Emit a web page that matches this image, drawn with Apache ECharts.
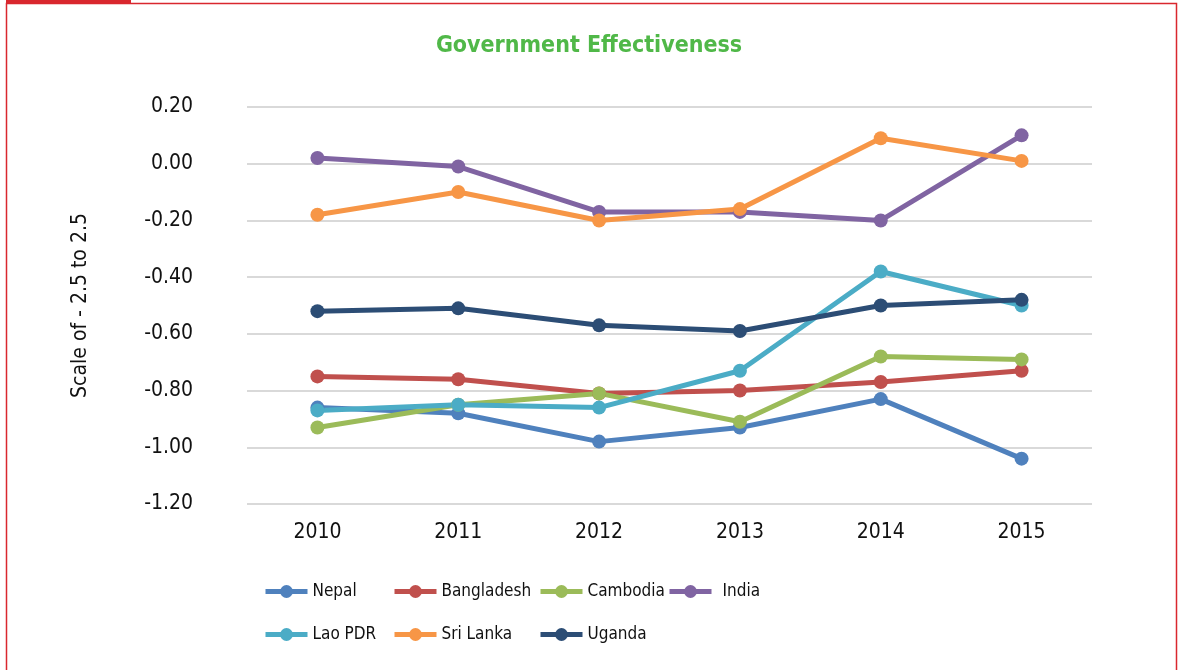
<!DOCTYPE html>
<html>
<head>
<meta charset="utf-8">
<title>Government Effectiveness</title>
<script src="https://cdn.jsdelivr.net/npm/echarts@6/dist/echarts.min.js"></script>
<style>
  html, body { margin: 0; padding: 0; background: #ffffff; }
  #chart { width: 1178px; height: 670px; }
</style>
</head>
<body>
<div id="chart"></div>
<script>
// Government Effectiveness estimates (scale of -2.5 to 2.5), 2010-2015
const years = ['2010', '2011', '2012', '2013', '2014', '2015'];

const nepal      = [-0.86, -0.88, -0.98, -0.93, -0.83, -1.04];
const bangladesh = [-0.75, -0.76, -0.81, -0.80, -0.77, -0.73];
const cambodia   = [-0.93, -0.85, -0.81, -0.91, -0.68, -0.69];
const india      = [0.02, -0.01, -0.17, -0.17, -0.20, 0.10];
const laoPdr     = [-0.87, -0.85, -0.86, -0.73, -0.38, -0.50];
const sriLanka   = [-0.18, -0.10, -0.20, -0.16, 0.09, 0.01];
const uganda     = [-0.52, -0.51, -0.57, -0.59, -0.50, -0.48];

const countries = [
  { name: 'Nepal',      data: nepal,      color: '#4f81bd' },
  { name: 'Bangladesh', data: bangladesh, color: '#c0504d' },
  { name: 'Cambodia',   data: cambodia,   color: '#9bbb59' },
  { name: 'India',      data: india,      color: '#8064a2' },
  { name: 'Lao PDR',    data: laoPdr,     color: '#4bacc6' },
  { name: 'Sri Lanka',  data: sriLanka,   color: '#f79646' },
  { name: 'Uganda',     data: uganda,     color: '#2c4d75' }
];

const FONT = '"Liberation Sans Narrow", "DejaVu Sans Condensed", "Roboto", sans-serif';

// Legend laid out in a fixed grid: four columns, two rows
const legendSlots = {
  'Nepal':      { left: 258, top: 578 },
  'Bangladesh': { left: 387, top: 578 },
  'Cambodia':   { left: 533, top: 578 },
  'India':      { left: 662, top: 578, pad: 6 },
  'Lao PDR':    { left: 258, top: 621 },
  'Sri Lanka':  { left: 387, top: 621 },
  'Uganda':     { left: 533, top: 621 }
};

const legends = countries.map(c => {
  const slot = legendSlots[c.name];
  return {
    data: [c.name],
    left: slot.left,
    top: slot.top,
    itemWidth: 42,
    itemHeight: 16,
    itemGap: 0,
    selectedMode: false,
    lineStyle: { width: 5 },
    textStyle: {
      fontFamily: FONT,
      fontSize: 17,
      color: '#111111',
      padding: [0, 0, 0, slot.pad || 0]
    }
  };
});

const chart = echarts.init(document.getElementById('chart'), null, { renderer: 'canvas' });

chart.setOption({
  animation: false,
  backgroundColor: '#ffffff',
  title: {
    text: 'Government Effectiveness',
    left: 'center',
    top: 30,
    textStyle: {
      fontFamily: FONT,
      fontSize: 23,
      fontWeight: 'bold',
      color: '#50b848'
    }
  },
  graphic: [
    // thin red frame around the panel
    {
      type: 'rect',
      shape: { x: 6.5, y: 3.5, width: 1170, height: 700 },
      style: { fill: null, stroke: '#d9272e', lineWidth: 1.5 },
      silent: true
    },
    // thick red tab on the top-left edge
    {
      type: 'rect',
      shape: { x: 6, y: 0, width: 125, height: 4 },
      style: { fill: '#d9272e' },
      silent: true
    }
  ],
  legend: legends,
  grid: {
    left: 247,
    right: 86,
    top: 107,
    bottom: 166
  },
  xAxis: {
    type: 'category',
    data: years,
    boundaryGap: true,
    axisLine: { show: false },
    axisTick: { show: false },
    axisLabel: {
      margin: 18,
      fontFamily: FONT,
      fontSize: 21,
      color: '#111111'
    }
  },
  yAxis: {
    type: 'value',
    min: -1.2,
    max: 0.2,
    interval: 0.2,
    name: 'Scale of - 2.5 to 2.5',
    nameLocation: 'middle',
    nameGap: 156,
    nameTextStyle: {
      fontFamily: FONT,
      fontSize: 21,
      color: '#111111'
    },
    axisLine: { show: false },
    axisTick: { show: false },
    splitLine: { lineStyle: { color: '#d9d9d9', width: 2 } },
    axisLabel: {
      margin: 54,
      fontFamily: FONT,
      fontSize: 21,
      color: '#111111',
      formatter: v => v.toFixed(2)
    }
  },
  series: countries.map(c => ({
    name: c.name,
    type: 'line',
    data: c.data,
    symbol: 'circle',
    symbolSize: 14,
    color: c.color,
    lineStyle: { width: 5, color: c.color },
    itemStyle: { color: c.color },
    emphasis: { disabled: true }
  }))
});
</script>
</body>
</html>
